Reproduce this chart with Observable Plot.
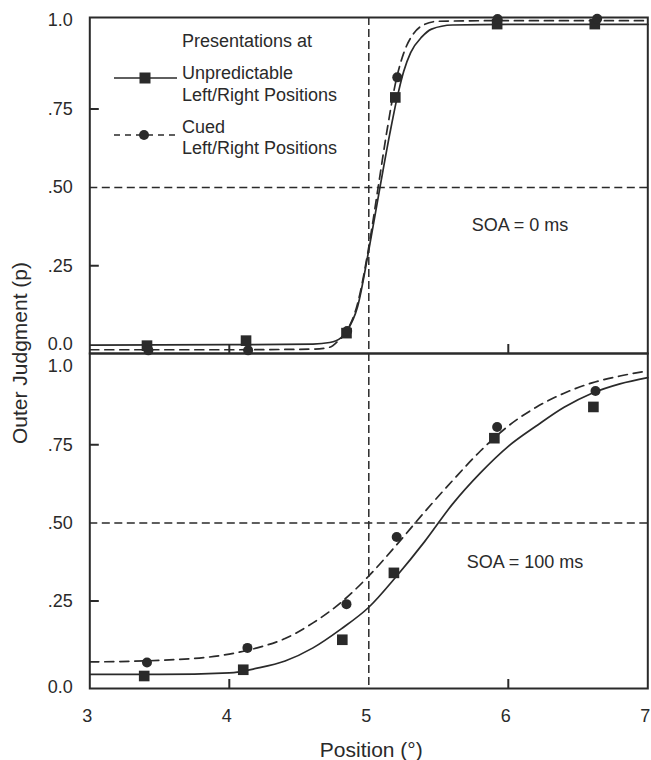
<!DOCTYPE html>
<html>
<head>
<meta charset="utf-8">
<script src="https://cdn.jsdelivr.net/npm/d3@7"></script>
<script src="https://cdn.jsdelivr.net/npm/@observablehq/plot@0.6"></script>
<style>
  html, body { margin: 0; padding: 0; background: #fff; }
  #wrap { position: relative; width: 651px; height: 760px; overflow: hidden; font-family: "Liberation Sans", Arial, Helvetica, sans-serif; color: #2a2a2a; }
  #wrap svg { overflow: visible; }
  .abs { position: absolute; }
</style>
</head>
<body>
<div id="wrap"></div>
<script>
// ---------------- data ----------------
const xDomain = [3, 7];
const yDomain = [-0.03, 1.042];
const xTickValues = [3, 4, 5, 6, 7];
const xTickLabels = ["3", "4", "5", "6", "7"];
const yTickValues = [0, 0.25, 0.5, 0.75, 1];
const yTickLabels = ["0.0", ".25", ".50", ".75", "1.0"];
const panelLabels = ["SOA = 0 ms", "SOA = 100 ms"];
const seriesNames = [["Unpredictable", "Left/Right Positions"], ["Cued", "Left/Right Positions"]];
const legendTitle = "Presentations at";
const xTitle = "Position (°)";
const yTitle = "Outer Judgment (p)";

// SOA = 0 ms : observed points
const soa0UnpredX = [3.41, 4.12, 4.84, 5.19, 5.92, 6.62];
const soa0UnpredP = [-0.005, 0.011, 0.035, 0.787, 1.021, 1.021];
const soa0CuedX   = [3.42, 4.135, 4.845, 5.204, 5.923, 6.637];
const soa0CuedP   = [-0.02, -0.02, 0.042, 0.851, 1.037, 1.038];
// SOA = 0 ms : fitted curves
const soa0UnpredCurveX = [3.0, 4.0, 4.6, 4.72, 4.8, 4.84, 4.92, 5.0, 5.08, 5.15, 5.2, 5.25, 5.3, 5.38, 5.45, 5.6, 6.0, 7.0];
const soa0UnpredCurveP = [-0.003, -0.002, 0.0, 0.005, 0.02, 0.04, 0.12, 0.3, 0.5, 0.67, 0.78, 0.87, 0.93, 0.98, 1.005, 1.018, 1.02, 1.02];
const soa0CuedCurveX = [3.0, 4.0, 4.6, 4.72, 4.78, 4.84, 4.92, 5.0, 5.067, 5.13, 5.2, 5.26, 5.32, 5.4, 5.5, 6.0, 7.0];
const soa0CuedCurveP = [-0.018, -0.018, -0.016, -0.01, 0.01, 0.04, 0.13, 0.31, 0.5, 0.68, 0.85, 0.94, 0.99, 1.02, 1.03, 1.032, 1.032];

// SOA = 100 ms : observed points
const soa100UnpredX = [3.39, 4.10, 4.81, 5.18, 5.90, 6.61];
const soa100UnpredP = [0.01, 0.03, 0.126, 0.34, 0.771, 0.871];
const soa100CuedX   = [3.41, 4.13, 4.84, 5.20, 5.92, 6.625];
const soa100CuedP   = [0.053, 0.10, 0.24, 0.455, 0.807, 0.922];
// SOA = 100 ms : fitted curves
const soa100UnpredCurveX = [3.0, 3.5, 4.0, 4.2, 4.4, 4.6, 4.8, 5.0, 5.2, 5.4, 5.6, 5.8, 6.0, 6.2, 6.4, 6.6, 6.8, 7.0];
const soa100UnpredCurveP = [0.015, 0.015, 0.02, 0.035, 0.058, 0.1, 0.16, 0.23, 0.33, 0.44, 0.56, 0.66, 0.745, 0.81, 0.87, 0.915, 0.945, 0.965];
const soa100CuedCurveX = [3.0, 3.5, 4.0, 4.2, 4.4, 4.6, 4.8, 5.0, 5.2, 5.4, 5.6, 5.8, 6.0, 6.2, 6.4, 6.6, 6.8, 7.0];
const soa100CuedCurveP = [0.055, 0.06, 0.08, 0.1, 0.13, 0.18, 0.245, 0.33, 0.43, 0.535, 0.635, 0.73, 0.81, 0.87, 0.915, 0.948, 0.97, 0.986];

// ---------------- helpers ----------------
const font = '"Liberation Sans", Arial, Helvetica, sans-serif';
const ink = "#2a2a2a";
const W = 651, ML = 89.3, MR = 3.7;
const rows = (xs, ps) => xs.map((x, i) => ({x, p: ps[i]}));
const fmtY = v => yTickLabels[yTickValues.indexOf(v)];
const fmtX = v => xTickLabels[xTickValues.indexOf(v)];

function panel(cfg) {
  const innerW = W - ML - MR;
  const innerH = cfg.height - cfg.marginTop - cfg.marginBottom;
  const marks = [
    Plot.axisY(cfg.yTicks, {tickSize: 0, tickPadding: 17, tickFormat: fmtY, fontSize: 18, fill: ink, label: null}),
    Plot.ruleY([0.5], {stroke: ink, strokeWidth: 1.5, strokeDasharray: "8,4.5"}),
    Plot.ruleX([5], {stroke: ink, strokeWidth: 1.5, strokeDasharray: "8,4"}),
    Plot.ruleY([0.25, 0.75], {stroke: ink, strokeWidth: 2, insetRight: innerW - 9.5}),
    Plot.ruleX([4, 6], {stroke: ink, strokeWidth: 2, insetTop: innerH - 9}),
    Plot.line(rows(cfg.unpredCurveX, cfg.unpredCurveP), {x: "x", y: "p", curve: "monotone-x", stroke: ink, strokeWidth: 1.7}),
    Plot.line(rows(cfg.cuedCurveX, cfg.cuedCurveP), {x: "x", y: "p", curve: "monotone-x", stroke: ink, strokeWidth: 1.7, strokeDasharray: "9,6"}),
    Plot.dot(rows(cfg.unpredX, cfg.unpredP), {x: "x", y: "p", symbol: "square", r: 6, fill: ink, stroke: null}),
    Plot.dot(rows(cfg.cuedX, cfg.cuedP), {x: "x", y: "p", symbol: "circle", r: 5, fill: ink, stroke: null}),
    Plot.frame({stroke: ink, strokeWidth: 2}),
    Plot.text([cfg.label], {text: d => d, frameAnchor: "left", dx: cfg.labelDx, dy: cfg.labelDy, textAnchor: "start", fontSize: 18, fill: ink}),
    Plot.text([cfg.edgeLabel], {text: d => d, frameAnchor: cfg.edgeAnchor, dx: -17, dy: cfg.edgeDy, textAnchor: "end", lineAnchor: "middle", fontSize: 18, fill: ink})
  ];
  if (cfg.xAxis) {
    marks.push(Plot.axisX(xTickValues, {tickSize: 0, tickPadding: 21, tickFormat: fmtX, dx: -2.5, fontSize: 18, fill: ink, label: null}));
  }
  return Plot.plot({
    width: W, height: cfg.height,
    marginTop: cfg.marginTop, marginBottom: cfg.marginBottom, marginLeft: ML, marginRight: MR,
    x: {domain: xDomain, axis: null},
    y: {domain: yDomain, axis: null},
    style: {fontFamily: font, fontSize: "18px", color: ink, background: "transparent", overflow: "visible"},
    marks
  });
}

const wrap = document.getElementById("wrap");

const topPanel = panel({
  height: 353, marginTop: 17, marginBottom: 0,
  yTicks: [0, 0.25, 0.5, 0.75], edgeLabel: "1.0", edgeAnchor: "top-left", edgeDy: 3,
  label: panelLabels[0], labelDx: 382, labelDy: 40,
  unpredX: soa0UnpredX, unpredP: soa0UnpredP, cuedX: soa0CuedX, cuedP: soa0CuedP,
  unpredCurveX: soa0UnpredCurveX, unpredCurveP: soa0UnpredCurveP,
  cuedCurveX: soa0CuedCurveX, cuedCurveP: soa0CuedCurveP,
  xAxis: false
});
topPanel.classList.add("abs");
topPanel.style.left = "0px"; topPanel.style.top = "0px";
wrap.appendChild(topPanel);

const bottomPanel = panel({
  height: 407, marginTop: 0, marginBottom: 72,
  yTicks: [0.25, 0.5, 0.75, 1], edgeLabel: "0.0", edgeAnchor: "bottom-left", edgeDy: -1,
  label: panelLabels[1], labelDx: 377, labelDy: 41.5,
  unpredX: soa100UnpredX, unpredP: soa100UnpredP, cuedX: soa100CuedX, cuedP: soa100CuedP,
  unpredCurveX: soa100UnpredCurveX, unpredCurveP: soa100UnpredCurveP,
  cuedCurveX: soa100CuedCurveX, cuedCurveP: soa100CuedCurveP,
  xAxis: true
});
bottomPanel.classList.add("abs");
bottomPanel.style.left = "0px"; bottomPanel.style.top = "353px";
wrap.appendChild(bottomPanel);

// ---------------- legend (inside top panel) ----------------
const leg = d3.select(wrap).append("svg")
  .attr("class", "abs")
  .attr("width", 360).attr("height", 170)
  .style("left", "0px").style("top", "0px")
  .style("font-family", font).style("font-size", "18px");
leg.append("text").attr("x", 182).attr("y", 41).attr("dy", "0.35em").attr("fill", ink).text(legendTitle);
leg.append("line").attr("x1", 114).attr("x2", 177).attr("y1", 78).attr("y2", 78).attr("stroke", ink).attr("stroke-width", 1.7);
leg.append("rect").attr("x", 145 - 5.5).attr("y", 78 - 5.5).attr("width", 11).attr("height", 11).attr("fill", ink);
leg.append("text").attr("x", 182).attr("y", 73).attr("dy", "0.35em").attr("fill", ink).text(seriesNames[0][0]);
leg.append("text").attr("x", 182).attr("y", 95).attr("dy", "0.35em").attr("fill", ink).text(seriesNames[0][1]);
leg.append("line").attr("x1", 114).attr("x2", 177).attr("y1", 135).attr("y2", 135).attr("stroke", ink).attr("stroke-width", 1.7).attr("stroke-dasharray", "6,5");
leg.append("circle").attr("cx", 144).attr("cy", 135).attr("r", 5).attr("fill", ink);
leg.append("text").attr("x", 182).attr("y", 127).attr("dy", "0.35em").attr("fill", ink).text(seriesNames[1][0]);
leg.append("text").attr("x", 182).attr("y", 148).attr("dy", "0.35em").attr("fill", ink).text(seriesNames[1][1]);

// ---------------- axis titles ----------------
const xt = document.createElement("div");
xt.className = "abs";
xt.textContent = xTitle;
Object.assign(xt.style, {left: (ML + (W - ML - MR) / 2 + 3 - 200) + "px", width: "400px", top: "737px", textAlign: "center", fontSize: "21px", lineHeight: "26px"});
wrap.appendChild(xt);

const yt = document.createElement("div");
yt.className = "abs";
yt.textContent = yTitle;
Object.assign(yt.style, {left: "20px", top: "353px", fontSize: "21px", lineHeight: "26px", whiteSpace: "nowrap", transform: "translate(-50%, -50%) rotate(-90deg)"});
wrap.appendChild(yt);
</script>
</body>
</html>
